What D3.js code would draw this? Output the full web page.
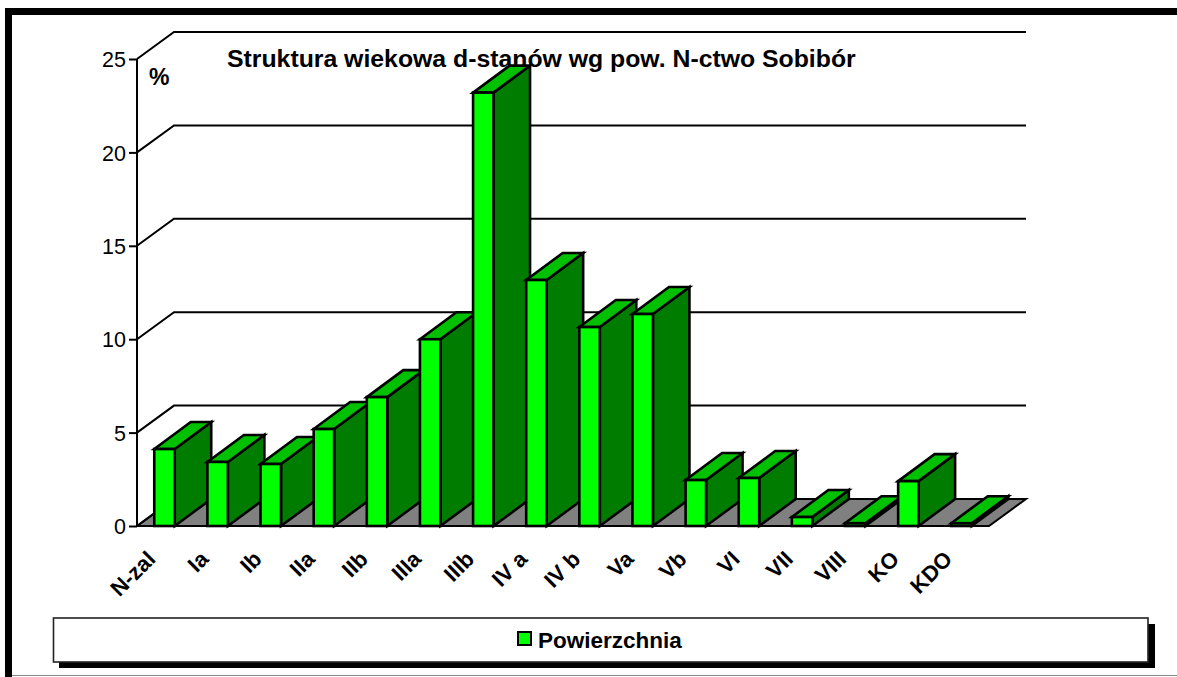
<!DOCTYPE html>
<html><head><meta charset="utf-8">
<style>html,body{margin:0;padding:0;background:#fff}svg{display:block}text{font-family:"Liberation Sans",Arial,sans-serif;fill:#000}</style>
<script src="https://cdn.jsdelivr.net/npm/d3@7"></script></head><body><script>
const categories=["N-zal","Ia","Ib","IIa","IIb","IIIa","IIIb","IV a","IV b","Va","Vb","VI","VII","VIII","KO","KDO"];
const values=[4.12,3.43,3.32,5.19,6.9,10.0,23.2,13.17,10.65,11.35,2.46,2.57,0.48,0.15,2.4,0.15];
const yTicks=[0,5,10,15,20,25];
const seriesName="Powierzchnia";
const chartTitle="Struktura wiekowa d-stanów wg pow. N-ctwo Sobibór";

const W=1177,H=677,dx=37,dy=-27,barDx=36.5;
const svg=d3.select("body").append("svg").attr("width",W).attr("height",H);
const x=d3.scaleBand().domain(categories).range([137,989]).paddingInner(0.615).paddingOuter(0.325);
const y=d3.scaleLinear().domain([0,25]).range([526,59]);
const line=d3.line();
const poly=p=>line(p)+"Z";

// frame
svg.append("path").attr("d","M8.5,677V11.5H1177").attr("fill","none").attr("stroke","#000").attr("stroke-width",7);
svg.append("path").attr("d","M12,675.5H1177").attr("fill","none").attr("stroke","#888").attr("stroke-width",1);

// floor
const x0=x.range()[0],x1=x.range()[1];
svg.append("path").attr("d",poly([[x0,y(0)],[x0+dx,y(0)+dy],[x1+dx,y(0)+dy],[x1,y(0)]])).attr("fill","#808080").attr("stroke","#000").attr("stroke-width",2);

// walls and gridlines
svg.selectAll(".grid").data(yTicks.filter(d=>d>0)).join("path").attr("class","grid")
 .attr("d",d=>line([[x0,y(d)],[x0+dx,y(d)+dy],[x1+dx,y(d)+dy]])).attr("fill","none").attr("stroke","#000").attr("stroke-width",2);
svg.append("line").attr("x1",x0).attr("x2",x0).attr("y1",y(0)).attr("y2",y(25)).attr("stroke","#000").attr("stroke-width",2);
svg.append("path").attr("d",line([[x0,y(0)],[x0+dx,y(0)+dy]])).attr("stroke","#000").attr("stroke-width",2);

// y axis
const ya=svg.append("g").attr("transform",`translate(${x0},0)`).call(d3.axisLeft(y).tickValues(yTicks).tickSize(8).tickPadding(3).tickSizeOuter(0));
ya.select(".domain").remove();
ya.selectAll("line").attr("stroke","#000").attr("stroke-width",2);
ya.selectAll("text").attr("font-size",21.5).attr("font-family","Liberation Sans").attr("dy","0.36em");

// bars
const g=svg.selectAll(".bar").data(categories.map((c,i)=>({c,v:values[i]}))).join("g").attr("class","bar");
const st=s=>s.attr("stroke","#000").attr("stroke-width",2.6).attr("stroke-linejoin","miter");
st(g.append("path").attr("fill","#007c00").attr("d",d=>{const r=x(d.c)+x.bandwidth();return poly([[r,y(d.v)],[r+barDx,y(d.v)+dy],[r+barDx,y(0)+dy],[r,y(0)]]);}));
st(g.append("path").attr("fill","#00c000").attr("d",d=>{const l=x(d.c),r=l+x.bandwidth();return poly([[l,y(d.v)],[l+barDx,y(d.v)+dy],[r+barDx,y(d.v)+dy],[r,y(d.v)]]);}));
st(g.append("rect").attr("fill","#00ff00").attr("x",d=>x(d.c)).attr("y",d=>y(d.v)).attr("width",x.bandwidth()).attr("height",d=>y(0)-y(d.v)));

// x labels
svg.selectAll(".xl").data(categories).join("text").attr("class","xl")
 .attr("transform",d=>`translate(${x(d)-3},${y(0)+29}) rotate(-45)`)
 .attr("text-anchor","end").attr("font-size",22).attr("font-weight","bold").attr("dy","0.35em").text(d=>d);

// titles
svg.append("text").attr("x",227).attr("y",67).attr("font-size",24.8).attr("font-weight","bold").text(chartTitle);
svg.append("text").attr("x",149).attr("y",85).attr("font-size",23).attr("font-weight","bold").text("%");

// legend
svg.append("rect").attr("x",59).attr("y",624).attr("width",1096).attr("height",44).attr("fill","#000");
svg.append("rect").attr("x",53.5).attr("y",618).attr("width",1094.5).attr("height",44).attr("fill","#fff").attr("stroke","#222").attr("stroke-width",1.6);
svg.append("rect").attr("x",518).attr("y",632).attr("width",13).attr("height",13).attr("fill","#00ff00").attr("stroke","#000").attr("stroke-width",2);
svg.append("text").attr("x",538).attr("y",648).attr("font-size",22.5).attr("font-weight","bold").text(seriesName);
</script></body></html>
